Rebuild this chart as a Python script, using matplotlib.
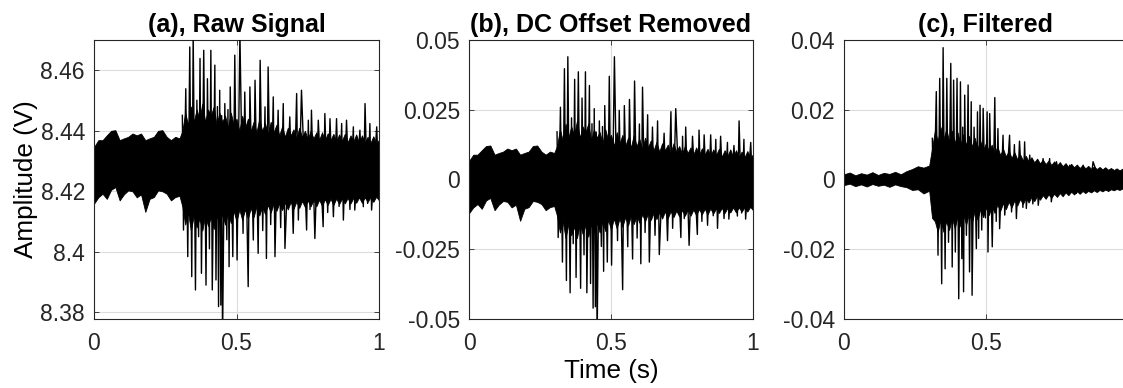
import matplotlib
matplotlib.use("Agg")
import matplotlib.pyplot as plt
import numpy as np

plt.rcParams['font.family'] = ['Liberation Sans', 'DejaVu Sans']

# ---------------- data ----------------
titles = ["(a), Raw Signal", "(b), DC Offset Removed", "(c), Filtered"]
x_label = "Time (s)"
y_label = "Amplitude (V)"

x_ticks = [0, 0.5, 1]
x_tick_labels = ["0", "0.5", "1"]
x_tick_labels_c = ["0", "0.5", ""]

ylim_a = [8.3778, 8.4700]
yticks_a = [8.38, 8.40, 8.42, 8.44, 8.46]
ytick_labels_a = ["8.38", "8.4", "8.42", "8.44", "8.46"]

ylim_b = [-0.05, 0.05]
yticks_b = [-0.05, -0.025, 0, 0.025, 0.05]
ytick_labels_b = ["-0.05", "-0.025", "0", "0.025", "0.05"]

ylim_c = [-0.04, 0.04]
yticks_c = [-0.04, -0.02, 0, 0.02, 0.04]
ytick_labels_c = ["-0.04", "-0.02", "0", "0.02", "0.04"]

dc_offset = 8.428

# sample times at which the dense band edges were read
pre_t_a = [0.000, 0.015, 0.030, 0.045, 0.060, 0.075, 0.090, 0.105, 0.120, 0.135,
           0.150, 0.165, 0.180, 0.195, 0.210, 0.225, 0.240, 0.255, 0.270, 0.285, 0.300]
post_t = [round(0.31 + 0.01 * i, 2) for i in range(70)]
pre_t_c = [0.00, 0.02, 0.04, 0.06, 0.08, 0.10, 0.12, 0.14, 0.16, 0.18,
           0.20, 0.22, 0.24, 0.26, 0.28, 0.30]

# raw signal: dense band edges
pre_hi_a = [8.4346, 8.4369, 8.4369, 8.4385, 8.4400, 8.4402, 8.4369, 8.4375, 8.4380, 8.4391,
            8.4385, 8.4391, 8.4369, 8.4375, 8.4380, 8.4400, 8.4402, 8.4380, 8.4369, 8.4380, 8.4375]
pre_lo_a = [8.4159, 8.4180, 8.4192, 8.4175, 8.4205, 8.4214, 8.4170, 8.4190, 8.4203, 8.4200,
            8.4180, 8.4190, 8.4132, 8.4175, 8.4181, 8.4203, 8.4200, 8.4192, 8.4170, 8.4181, 8.4185]
post_hi_a = [8.4400, 8.4460, 8.4420, 8.4480, 8.4430, 8.4470, 8.4440, 8.4490, 8.4430, 8.4470,
             8.4450, 8.4480, 8.4420, 8.4460, 8.4430, 8.4450, 8.4410, 8.4460, 8.4420, 8.4440,
             8.4400, 8.4450, 8.4410, 8.4440, 8.4400, 8.4430, 8.4395, 8.4440, 8.4400, 8.4425,
             8.4390, 8.4430, 8.4395, 8.4420, 8.4385, 8.4415, 8.4380, 8.4410, 8.4385, 8.4405,
             8.4375, 8.4410, 8.4380, 8.4400, 8.4372, 8.4400, 8.4375, 8.4395, 8.4370, 8.4395,
             8.4368, 8.4392, 8.4370, 8.4390, 8.4365, 8.4388, 8.4368, 8.4390, 8.4362, 8.4385,
             8.4365, 8.4388, 8.4360, 8.4385, 8.4362, 8.4380, 8.4360, 8.4382, 8.4358, 8.4370]
post_lo_a = [8.4150, 8.4090, 8.4130, 8.4070, 8.4120, 8.4080, 8.4110, 8.4070, 8.4120, 8.4085,
             8.4115, 8.4075, 8.4120, 8.4090, 8.4125, 8.4090, 8.4130, 8.4095, 8.4135, 8.4100,
             8.4140, 8.4105, 8.4140, 8.4110, 8.4145, 8.4115, 8.4150, 8.4120, 8.4150, 8.4125,
             8.4155, 8.4130, 8.4158, 8.4135, 8.4160, 8.4138, 8.4162, 8.4140, 8.4165, 8.4142,
             8.4166, 8.4145, 8.4168, 8.4148, 8.4170, 8.4150, 8.4172, 8.4150, 8.4172, 8.4152,
             8.4174, 8.4155, 8.4175, 8.4155, 8.4176, 8.4158, 8.4176, 8.4160, 8.4178, 8.4160,
             8.4178, 8.4162, 8.4180, 8.4162, 8.4180, 8.4165, 8.4180, 8.4165, 8.4182, 8.4170]

# raw signal: alternating peaks/troughs of the visible spikes
spike_t_a = [0.310, 0.314, 0.322, 0.329, 0.336, 0.343, 0.348, 0.356, 0.361, 0.367,
             0.372, 0.377, 0.385, 0.393, 0.398, 0.405, 0.410, 0.415, 0.424, 0.428,
             0.433, 0.437, 0.441, 0.445, 0.448, 0.451, 0.459, 0.466, 0.470, 0.474,
             0.478, 0.487, 0.494, 0.502, 0.512, 0.523, 0.529, 0.541, 0.547, 0.559,
             0.565, 0.576, 0.583, 0.592, 0.600, 0.605, 0.611, 0.620, 0.629, 0.635,
             0.646, 0.655, 0.664, 0.670, 0.687, 0.699, 0.711, 0.717, 0.728, 0.746,
             0.752, 0.758, 0.763, 0.775, 0.787, 0.804, 0.810, 0.820, 0.828, 0.840,
             0.851, 0.860, 0.869, 0.875, 0.886, 0.898, 0.910, 0.915, 0.933, 0.945,
             0.951, 0.960, 0.968, 0.974, 0.992, 1.000]
spike_v_a = [8.4451, 8.4072, 8.4539, 8.3984, 8.4677, 8.3918, 8.4720, 8.3874, 8.4501, 8.4050,
             8.4639, 8.3929, 8.4666, 8.3890, 8.4572, 8.4010, 8.4666, 8.3874, 8.4617, 8.3907,
             8.4480, 8.3819, 8.4534, 8.3824, 8.4450, 8.3700, 8.4490, 8.4040, 8.4470, 8.3951,
             8.4545, 8.3984, 8.4650, 8.3973, 8.4720, 8.4061, 8.4528, 8.3885, 8.4545, 8.4039,
             8.4567, 8.3995, 8.4633, 8.4070, 8.4479, 8.3978, 8.4611, 8.4090, 8.4512, 8.3984,
             8.4468, 8.4080, 8.4490, 8.4011, 8.4446, 8.4061, 8.4523, 8.4105, 8.4534, 8.4072,
             8.4435, 8.4140, 8.4468, 8.4044, 8.4435, 8.4083, 8.4457, 8.4130, 8.4440, 8.4116,
             8.4440, 8.4150, 8.4424, 8.4105, 8.4435, 8.4140, 8.4413, 8.4138, 8.4402, 8.4149,
             8.4490, 8.4160, 8.4424, 8.4138, 8.4413, 8.4200]

# filtered signal: dense band edges
pre_hi_c = [0.0015, 0.0020, 0.0012, 0.0018, 0.0014, 0.0021, 0.0013, 0.0019, 0.0016, 0.0022,
            0.0015, 0.0024, 0.0030, 0.0038, 0.0034, 0.0040]
pre_lo_c = [-0.0016, -0.0012, -0.0019, -0.0014, -0.0020, -0.0013, -0.0018, -0.0015, -0.0021, -0.0014,
            -0.0019, -0.0022, -0.0030, -0.0028, -0.0040, -0.0032]
post_hi_c = [0.0090, 0.0140, 0.0110, 0.0150, 0.0115, 0.0145, 0.0110, 0.0140, 0.0105, 0.0135,
             0.0100, 0.0130, 0.0100, 0.0125, 0.0095, 0.0120, 0.0090, 0.0110, 0.0085, 0.0105,
             0.0080, 0.0100, 0.0075, 0.0095, 0.0070, 0.0088, 0.0066, 0.0082, 0.0062, 0.0078,
             0.0058, 0.0072, 0.0055, 0.0068, 0.0052, 0.0064, 0.0049, 0.0060, 0.0046, 0.0057,
             0.0044, 0.0054, 0.0042, 0.0052, 0.0040, 0.0050, 0.0038, 0.0047, 0.0036, 0.0045,
             0.0035, 0.0043, 0.0033, 0.0041, 0.0032, 0.0039, 0.0031, 0.0037, 0.0030, 0.0036,
             0.0029, 0.0035, 0.0028, 0.0033, 0.0027, 0.0032, 0.0026, 0.0031, 0.0025, 0.0028]
post_lo_c = [-0.0110, -0.0120, -0.0150, -0.0115, -0.0150, -0.0120, -0.0145, -0.0110, -0.0140, -0.0105,
             -0.0135, -0.0100, -0.0130, -0.0095, -0.0125, -0.0090, -0.0115, -0.0085, -0.0108, -0.0080,
             -0.0102, -0.0076, -0.0096, -0.0072, -0.0090, -0.0068, -0.0085, -0.0064, -0.0080, -0.0060,
             -0.0075, -0.0056, -0.0070, -0.0053, -0.0066, -0.0050, -0.0062, -0.0047, -0.0058, -0.0045,
             -0.0055, -0.0043, -0.0052, -0.0041, -0.0050, -0.0039, -0.0048, -0.0037, -0.0045, -0.0035,
             -0.0043, -0.0034, -0.0041, -0.0033, -0.0039, -0.0032, -0.0037, -0.0031, -0.0036, -0.0030,
             -0.0034, -0.0029, -0.0033, -0.0028, -0.0031, -0.0027, -0.0030, -0.0026, -0.0029, -0.0025]

# filtered signal: alternating peaks/troughs of the visible spikes
spike_t_c = [0.311, 0.316, 0.325, 0.331, 0.337, 0.344, 0.349, 0.356, 0.362, 0.368,
             0.376, 0.381, 0.386, 0.392, 0.398, 0.404, 0.410, 0.415, 0.418, 0.421,
             0.425, 0.431, 0.437, 0.442, 0.448, 0.451, 0.458, 0.466, 0.470, 0.474,
             0.479, 0.485, 0.490, 0.498, 0.504, 0.507, 0.513, 0.522, 0.531, 0.536,
             0.542, 0.548, 0.560, 0.566, 0.583, 0.590, 0.600, 0.607, 0.618, 0.630,
             0.636, 0.642, 0.654, 0.665, 0.677, 0.684, 0.701, 0.712, 0.724, 0.730,
             0.748, 0.771, 0.795, 0.818, 0.842, 0.865, 0.877, 0.912, 0.920, 0.935,
             0.947, 0.959, 0.977, 0.985]
spike_v_c = [0.0118, -0.0112, 0.0252, -0.0217, 0.0290, -0.0299, 0.0378, -0.0256, 0.0290, -0.0180,
             0.0333, -0.0251, 0.0285, -0.0208, 0.0290, -0.0342, 0.0280, -0.0227, 0.0150, -0.0322,
             0.0242, -0.0160, 0.0271, -0.0265, 0.0223, -0.0332, 0.0150, -0.0198, 0.0194, -0.0169,
             0.0213, -0.0145, 0.0204, -0.0110, 0.0194, -0.0208, 0.0189, -0.0193, 0.0235, -0.0120,
             0.0146, -0.0141, 0.0127, -0.0102, 0.0127, -0.0093, 0.0100, -0.0112, 0.0110, -0.0080,
             0.0108, -0.0083, 0.0070, -0.0070, 0.0051, -0.0074, 0.0060, -0.0055, 0.0060, -0.0064,
             0.0051, -0.0045, 0.0041, -0.0040, 0.0041, -0.0035, 0.0051, -0.0031, 0.0032, -0.0028,
             0.0027, -0.0026, 0.0022, -0.0020]

# ---------------- figure ----------------
W, H = 1123, 388
fig = plt.figure(figsize=(W / 100, H / 100), dpi=100)

def px_axes(left, right, top, bottom):
    return fig.add_axes([left / W, 1 - bottom / H, (right - left) / W, (bottom - top) / H])

ax_a = px_axes(94, 379, 40, 319)
ax_b = px_axes(469, 753, 40, 319)
ax_c = px_axes(844, 1128, 40, 319)

FS = 16.5
FS_TITLE = 18
FS_LABEL = 18.8
spine_col = "#262626"
grid_col = "#dcdcdc"

def style(ax, title, ylim, yticks, ylabels, xlabels):
    ax.set_xlim(0, 1)
    ax.set_ylim(*ylim)
    ax.set_xticks(x_ticks)
    ax.set_xticklabels(xlabels)
    ax.set_yticks(yticks)
    ax.set_yticklabels(ylabels)
    ax.grid(True, color=grid_col, linewidth=0.8)
    ax.set_axisbelow(True)
    for s in ax.spines.values():
        s.set_color(spine_col)
        s.set_linewidth(0.8)
    ax.tick_params(axis='both', direction='in', length=3.5, width=0.6, color=spine_col,
                   labelsize=FS, labelcolor="#262626", top=True, right=True)
    ax.tick_params(axis='y', pad=6.5)
    ax.tick_params(axis='x', pad=9.5)
    ax.set_title(title, fontsize=FS_TITLE, fontweight='bold', pad=6, color="black")

def draw(ax, pre_t, pre_hi, pre_lo, post_hi, post_lo, st, sv, offset=0.0):
    t = np.asarray(list(pre_t) + post_t)
    hi = np.asarray(list(pre_hi) + list(post_hi)) - offset
    lo = np.asarray(list(pre_lo) + list(post_lo)) - offset
    ax.fill_between(t, hi, lo, color="black", linewidth=0.6, zorder=2)
    ax.plot(np.asarray(st), np.asarray(sv) - offset, color="black", linewidth=1.0, zorder=3)

draw(ax_a, pre_t_a, pre_hi_a, pre_lo_a, post_hi_a, post_lo_a, spike_t_a, spike_v_a)
style(ax_a, titles[0], ylim_a, yticks_a, ytick_labels_a, x_tick_labels)
ax_a.set_ylabel(y_label, fontsize=FS_LABEL, labelpad=2)

draw(ax_b, pre_t_a, pre_hi_a, pre_lo_a, post_hi_a, post_lo_a, spike_t_a, spike_v_a,
     offset=dc_offset)
style(ax_b, titles[1], ylim_b, yticks_b, ytick_labels_b, x_tick_labels)
ax_b.set_xlabel(x_label, fontsize=FS_LABEL, labelpad=3)

draw(ax_c, pre_t_c, pre_hi_c, pre_lo_c, post_hi_c, post_lo_c, spike_t_c, spike_v_c)
style(ax_c, titles[2], ylim_c, yticks_c, ytick_labels_c, x_tick_labels_c)

fig.savefig("out.png", dpi=100)
